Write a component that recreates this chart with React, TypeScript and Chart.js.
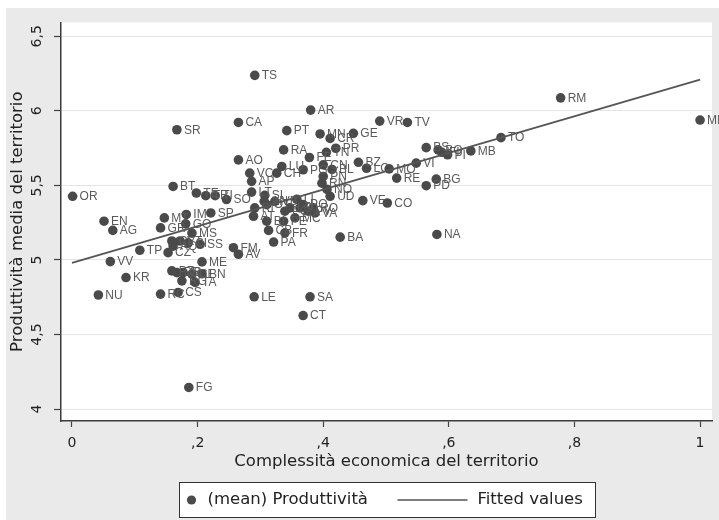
import { useEffect, useRef } from "react";
import { Chart, registerables } from "chart.js";

Chart.register(...registerables);

// Province codes (point labels)
const provinces = [
  "OR", "BT", "TE", "TR", "TI", "SO", "EN", "AG", "MT", "IM",
  "SP", "GR", "GO", "MS", "CL", "VT", "CI", "SS", "AQ", "CZ",
  "TP", "VV", "ME", "KR", "PZ", "BR", "IS", "CE", "BN", "RG",
  "TA", "NU", "RC", "CS", "FG", "FM", "AV", "LE", "SA", "CT",
  "PA", "FR", "BA", "BI", "CB", "PE", "MC", "AT", "RI", "LT",
  "SI", "AP", "VC", "LU", "CH", "PG", "CN", "BL", "PN", "RN",
  "NO", "UD", "RO", "PV", "AL", "LO", "PC", "VB", "AN", "LI",
  "PO", "VA", "OT", "TS", "AR", "CA", "VR", "TV", "PT", "SR",
  "MN", "CR", "GE", "RA", "PR", "TN", "FE", "AO", "BZ", "LC",
  "MO", "RE", "VI", "BS", "BO", "FI", "PI", "MB", "TO", "BG",
  "PD", "VE", "CO", "NA", "RM", "MI",
];

// Complessità economica del territorio (x)
const complessita = [
  0.001, 0.161, 0.198, 0.213, 0.228, 0.246, 0.051, 0.065, 0.147, 0.182,
  0.221, 0.141, 0.181, 0.191, 0.159, 0.172, 0.185, 0.204, 0.161, 0.153,
  0.108, 0.061, 0.207, 0.086, 0.159, 0.167, 0.177, 0.191, 0.207, 0.175,
  0.196, 0.042, 0.141, 0.169, 0.186, 0.257, 0.265, 0.290, 0.379, 0.368,
  0.321, 0.339, 0.427, 0.310, 0.313, 0.337, 0.355, 0.289, 0.291, 0.286,
  0.307, 0.286, 0.283, 0.334, 0.326, 0.368, 0.400, 0.414, 0.400, 0.398,
  0.406, 0.411, 0.384, 0.376, 0.363, 0.347, 0.339, 0.323, 0.306, 0.358,
  0.368, 0.387, 0.310, 0.291, 0.380, 0.265, 0.490, 0.534, 0.342, 0.167,
  0.395, 0.411, 0.448, 0.337, 0.420, 0.405, 0.378, 0.265, 0.456, 0.469,
  0.505, 0.517, 0.548, 0.564, 0.583, 0.589, 0.598, 0.635, 0.683, 0.580,
  0.564, 0.463, 0.502, 0.581, 0.778, 1.0,
];

// (mean) Produttività (y)
const produttivita = [
  5.427, 5.493, 5.449, 5.431, 5.431, 5.405, 5.26, 5.198, 5.282, 5.305,
  5.315, 5.215, 5.242, 5.18, 5.127, 5.127, 5.115, 5.105, 5.093, 5.049,
  5.065, 4.989, 4.987, 4.882, 4.927, 4.915, 4.915, 4.905, 4.907, 4.86,
  4.849, 4.765, 4.771, 4.782, 4.145, 5.082, 5.038, 4.753, 4.753, 4.627,
  5.12, 5.182, 5.153, 5.26, 5.198, 5.26, 5.282, 5.293, 5.349, 5.455,
  5.433, 5.527, 5.582, 5.627, 5.582, 5.605, 5.638, 5.607, 5.56, 5.515,
  5.473, 5.427, 5.349, 5.327, 5.349, 5.349, 5.327, 5.393, 5.393, 5.407,
  5.371, 5.315, 5.371, 6.238, 6.005, 5.922, 5.931, 5.922, 5.867, 5.873,
  5.845, 5.815, 5.849, 5.738, 5.749, 5.722, 5.687, 5.671, 5.655, 5.615,
  5.611, 5.549, 5.649, 5.753, 5.738, 5.722, 5.705, 5.731, 5.82, 5.542,
  5.498, 5.398, 5.382, 5.171, 6.087, 5.938,
];

// Fitted values (linear fit, read at the ends of the line)
const fittedX = [0, 1];
const fittedY = [4.98, 6.21];

const xTickValues = [0, 0.2, 0.4, 0.6, 0.8, 1];
const xTickLabels = ["0", ",2", ",4", ",6", ",8", "1"];
const yTickValues = [4, 4.5, 5, 5.5, 6, 6.5];
const yTickLabels = ["4", "4,5", "5", "5,5", "6", "6,5"];

const xTitle = "Complessità economica del territorio";
const yTitle = "Produttività media del territorio";
const legendLabels = ["(mean) Produttività", "Fitted values"];

export default function App() {
  const ref = useRef<HTMLCanvasElement>(null);

  useEffect(() => {
    const canvas = ref.current;
    if (!canvas) return;
    const markerColor = "#4a4a4a";
    const lineColor = "#555555";
    const textColor = "#222222";
    const bigFont = '"DejaVu Sans", sans-serif';

    const bgPlugin = {
      id: "bgPlugin",
      beforeDraw(chart: any) {
        const { ctx, chartArea: a, width, height } = chart;
        ctx.save();
        ctx.fillStyle = "#eaeaea";
        ctx.fillRect(0, 0, width, height);
        ctx.fillStyle = "#ffffff";
        ctx.fillRect(a.left, a.top, a.right - a.left, a.bottom - a.top);
        ctx.restore();
      },
    };

    const labelPlugin = {
      id: "pointLabelPlugin",
      afterDatasetDraw(chart: any, args: any) {
        if (args.index !== 0) return;
        const meta = chart.getDatasetMeta(0);
        const ctx = chart.ctx;
        ctx.save();
        ctx.font = '12px "Liberation Sans", Arial, sans-serif';
        ctx.fillStyle = "#5a5a5a";
        ctx.textBaseline = "middle";
        ctx.textAlign = "left";
        meta.data.forEach((pt: any, i: number) => {
          ctx.fillText(provinces[i], pt.x + 7, pt.y + 0.5);
        });
        ctx.restore();
      },
    };

    const legendPlugin = {
      id: "boxLegend",
      afterDraw(chart: any) {
        const ctx = chart.ctx;
        const a = chart.chartArea;
        const w = 416;
        const h = 35;
        const left = Math.round((a.left + a.right) / 2 - w / 2) + 0.5;
        const top = 474.5;
        const cy = top + h / 2;
        ctx.save();
        ctx.fillStyle = "#ffffff";
        ctx.fillRect(left, top, w, h);
        ctx.strokeStyle = "#333333";
        ctx.lineWidth = 1;
        ctx.strokeRect(left, top, w, h);
        // marker
        ctx.fillStyle = markerColor;
        ctx.beginPath();
        ctx.arc(left + 12, cy, 4.6, 0, Math.PI * 2);
        ctx.fill();
        ctx.font = `16.5px ${bigFont}`;
        ctx.fillStyle = textColor;
        ctx.textBaseline = "middle";
        ctx.textAlign = "left";
        ctx.fillText(legendLabels[0], left + 28, cy);
        // line sample
        ctx.strokeStyle = lineColor;
        ctx.lineWidth = 1.5;
        ctx.beginPath();
        ctx.moveTo(left + 218, cy);
        ctx.lineTo(left + 288, cy);
        ctx.stroke();
        ctx.fillText(legendLabels[1], left + 298, cy);
        ctx.restore();
      },
    };

    const chart = new Chart(canvas, {
      type: "scatter",
      data: {
        datasets: [
          {
            label: legendLabels[0],
            data: provinces.map((_, i) => ({ x: complessita[i], y: produttivita[i] })),
            backgroundColor: markerColor,
            borderWidth: 0,
            pointRadius: 4.8,
            pointHoverRadius: 4.8,
            order: 1,
          },
          {
            type: "line",
            label: legendLabels[1],
            data: fittedX.map((x, i) => ({ x, y: fittedY[i] })),
            borderColor: lineColor,
            borderWidth: 1.8,
            pointRadius: 0,
            fill: false,
            tension: 0,
            order: 0,
          } as any,
        ],
      },
      options: {
        responsive: false,
        animation: false,
        events: [],
        layout: { padding: { top: 12, right: 7, bottom: 48, left: 0 } },
        plugins: {
          legend: { display: false },
          tooltip: { enabled: false },
        },
        scales: {
          x: {
            type: "linear",
            min: -0.0175,
            max: 1.019,
            afterFit: (s: any) => {
              s.height = 51;
            },
            afterBuildTicks: (s: any) => {
              s.ticks = xTickValues.map((v) => ({ value: v }));
            },
            ticks: {
              callback: (_v: any, i: number) => xTickLabels[i],
              font: { family: bigFont, size: 14 },
              color: textColor,
              padding: 8,
              minRotation: 0,
              maxRotation: 0,
              autoSkip: false,
            },
            grid: {
              drawOnChartArea: false,
              drawTicks: true,
              tickLength: 6,
              tickColor: "#444444",
              tickWidth: 1.2,
            },
            border: { display: true, color: "#3c3c3c", width: 1.5 },
            title: {
              display: true,
              text: xTitle,
              font: { family: bigFont, size: 16.5 },
              color: textColor,
              padding: { top: 0, bottom: 0 },
            },
          },
          y: {
            type: "linear",
            min: 3.92,
            max: 6.593,
            afterFit: (s: any) => {
              s.width = 55;
            },
            afterBuildTicks: (s: any) => {
              s.ticks = yTickValues.map((v) => ({ value: v }));
            },
            ticks: {
              callback: (_v: any, i: number) => yTickLabels[i],
              font: { family: bigFont, size: 14 },
              color: textColor,
              padding: 6,
              minRotation: 90,
              maxRotation: 90,
              crossAlign: "center",
              autoSkip: false,
            },
            grid: {
              drawOnChartArea: true,
              color: "#e4e4e4",
              lineWidth: 1,
              drawTicks: true,
              tickLength: 7,
              tickColor: "#444444",
              tickWidth: 1.2,
            },
            border: { display: true, color: "#3c3c3c", width: 1.5 },
            title: {
              display: true,
              text: yTitle,
              font: { family: bigFont, size: 16.5 },
              color: textColor,
              padding: { top: 2, bottom: 0 },
            },
          },
        },
      } as any,
      plugins: [bgPlugin, labelPlugin, legendPlugin],
    });

    return () => {
      chart.destroy();
    };
  }, []);

  return (
    <div style={{ position: "absolute", left: 6, top: 8, width: 713, height: 512 }}>
      <canvas ref={ref} width={713} height={512} style={{ display: "block" }} />
    </div>
  );
}
